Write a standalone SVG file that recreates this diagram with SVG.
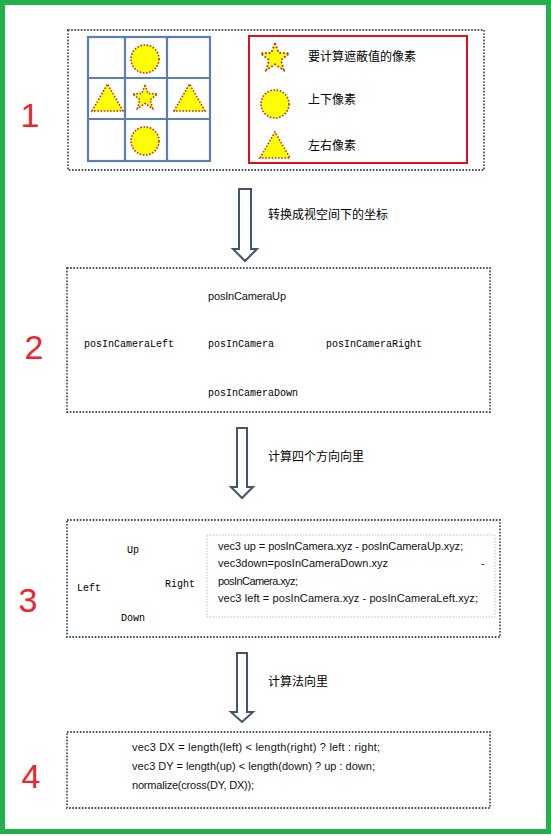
<svg xmlns="http://www.w3.org/2000/svg" width="551" height="837" viewBox="0 0 551 837">
<style>
.frame{fill:none;stroke:#3f4f68;stroke-width:1.8;stroke-dasharray:1.6 1.6}
.inner{fill:none;stroke:#b4c0d4;stroke-width:1;stroke-dasharray:1.5 1.5}
.grid{stroke:#5b7fb0;stroke-width:2.2;fill:none}
.shape{fill:#ffff00;stroke:#b8302a;stroke-width:1.6;stroke-dasharray:1.6 1.6}
.arrow{fill:#fff;stroke:#44546a;stroke-width:2}
.num{font-family:"Liberation Sans",Arial,sans-serif;font-size:34px;fill:#e8262c;text-anchor:middle}
.cjk{font-family:"Noto Sans CJK SC","Liberation Sans",sans-serif;font-size:12px;fill:#000}
.mono{font-family:"Liberation Mono","Courier New",monospace;font-size:10px;fill:#000}
.code{font-family:"Liberation Sans",Arial,sans-serif;font-size:11px;fill:#111}
</style>
<defs>
<path id="star" d="M0,-13 L3.2,-4.5 L12.4,-4 L5.2,1.7 L7.6,10.5 L0,5.5 L-7.6,10.5 L-5.2,1.7 L-12.4,-4 L-3.2,-4.5 Z"/>
</defs>
<rect x="2.5" y="2.5" width="546" height="829" fill="#fff" stroke="#22b14c" stroke-width="5"/>

<g id="step1">
<rect class="frame" x="68" y="30" width="416" height="140"/>
<g id="grid">
<rect class="grid" x="88" y="37" width="122" height="124"/>
<line class="grid" x1="125" y1="37" x2="125" y2="161"/>
<line class="grid" x1="167" y1="37" x2="167" y2="161"/>
<line class="grid" x1="88" y1="78" x2="210" y2="78"/>
<line class="grid" x1="88" y1="119" x2="210" y2="119"/>
<circle class="shape" cx="145" cy="59" r="14"/>
<circle class="shape" cx="145" cy="141" r="14"/>
<use href="#star" class="shape" transform="translate(145,98)"/>
<polygon class="shape" points="92,111 107.5,84 123,111"/>
<polygon class="shape" points="174,111 189.5,84 205,111"/>
</g>
<g id="legend">
<rect x="249" y="36" width="218" height="127" fill="none" stroke="#e0101a" stroke-width="2"/>
<use href="#star" class="shape" transform="translate(275,58) scale(1.15)"/>
<circle class="shape" cx="275" cy="104" r="14"/>
<polygon class="shape" points="260,158 275,132 290,158"/>
<text class="cjk" x="308" y="61">要计算遮蔽值的像素</text>
<text class="cjk" x="308" y="104">上下像素</text>
<text class="cjk" x="308" y="150">左右像素</text>
</g>
<text class="num" x="30" y="127">1</text>
</g>

<g id="step2">
<rect class="frame" x="67" y="268" width="423" height="144"/>
<text class="code" x="208" y="300" textLength="78">posInCameraUp</text>
<text class="mono" x="84" y="347">posInCameraLeft</text>
<text class="mono" x="208" y="347">posInCamera</text>
<text class="mono" x="326" y="347">posInCameraRight</text>
<text class="mono" x="208" y="396">posInCameraDown</text>
<text class="num" x="34" y="359">2</text>
</g>

<g id="step3">
<rect class="frame" x="67" y="520" width="433" height="117"/>
<rect class="inner" x="207" y="535" width="288" height="82"/>
<text class="mono" x="127" y="553">Up</text>
<text class="mono" x="77" y="591">Left</text>
<text class="mono" x="165" y="587">Right</text>
<text class="mono" x="121" y="621">Down</text>
<text class="code" x="218" y="550" textLength="245">vec3 up = posInCamera.xyz - posInCameraUp.xyz;</text>
<text class="code" x="218" y="567" textLength="170">vec3down=posInCameraDown.xyz</text>
<text class="code" x="481" y="567">-</text>
<text class="code" x="218" y="585" textLength="80">posInCamera.xyz;</text>
<text class="code" x="218" y="602" textLength="260">vec3 left = posInCamera.xyz - posInCameraLeft.xyz;</text>
<text class="num" x="28" y="612">3</text>
</g>

<g id="step4">
<rect class="frame" x="67" y="732" width="423" height="76"/>
<text class="code" x="132" y="751" textLength="248">vec3 DX = length(left) &lt; length(right) ? left : right;</text>
<text class="code" x="132" y="770" textLength="243">vec3 DY = length(up) &lt; length(down) ? up : down;</text>
<text class="code" x="132" y="789" textLength="122">normalize(cross(DY, DX));</text>
<text class="num" x="31" y="788">4</text>
</g>

<g id="connectors">
<path class="arrow" d="M239,189 H251 V249 H257 L245,261 L233,249 H239 Z"/>
<text class="cjk" x="268" y="219">转换成视空间下的坐标</text>
<path class="arrow" d="M237,428 H247 V487 H253 L242,498 L231,487 H237 Z"/>
<text class="cjk" x="268" y="461">计算四个方向向里</text>
<path class="arrow" d="M237,653 H247 V712 H253 L242,722 L231,712 H237 Z"/>
<text class="cjk" x="268" y="686">计算法向里</text>
</g>
</svg>
